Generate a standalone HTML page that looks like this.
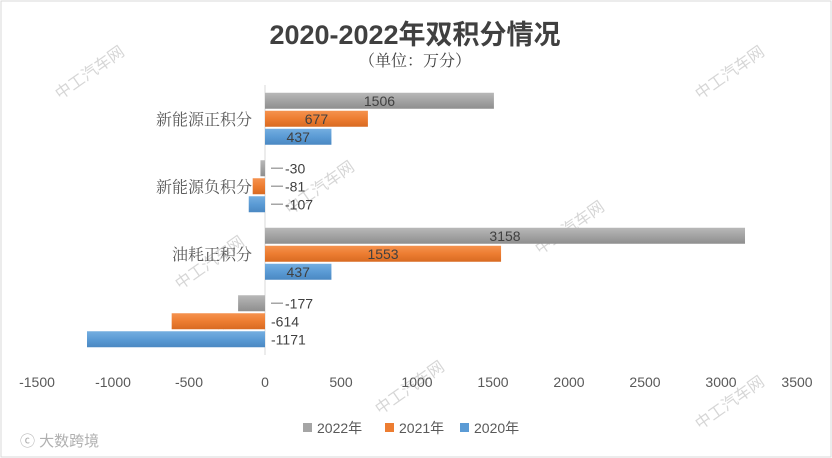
<!DOCTYPE html>
<html><head><meta charset="utf-8">
<style>
body{margin:0;background:#fff;}
svg{display:block;font-family:"Liberation Sans","Noto Sans CJK SC",sans-serif;}
</style></head>
<body>
<svg id="chart" width="832" height="458" viewBox="0 0 832 458">
<defs>
<linearGradient id="gGray" x1="0" y1="0" x2="0" y2="1"><stop offset="0" stop-color="#b8b8b8"/><stop offset="0.5" stop-color="#a3a3a3"/><stop offset="1" stop-color="#8e8e8e"/></linearGradient>
<linearGradient id="gOrange" x1="0" y1="0" x2="0" y2="1"><stop offset="0" stop-color="#f5924f"/><stop offset="0.5" stop-color="#ed7d31"/><stop offset="1" stop-color="#d86a22"/></linearGradient>
<linearGradient id="gBlue" x1="0" y1="0" x2="0" y2="1"><stop offset="0" stop-color="#74aee0"/><stop offset="0.5" stop-color="#5b9bd5"/><stop offset="1" stop-color="#4a88c2"/></linearGradient>
</defs>
<rect x="1" y="1" width="830" height="456" fill="#fff" stroke="#d9d9d9"/>
<text x="415" y="44" text-anchor="middle" font-size="27" font-weight="bold" fill="#404040">2020-2022年双积分情况</text>
<text x="415" y="66" text-anchor="middle" font-size="16" fill="#404040" font-family="Noto Serif CJK SC, serif">（单位：万分）</text>
<g id="wm" fill="#d6d6d6" font-size="16" font-family="Noto Sans CJK SC, sans-serif">
<text transform="translate(60,100) rotate(-35)">中工汽车网</text>
<text transform="translate(700,100) rotate(-35)">中工汽车网</text>
<text transform="translate(540,255) rotate(-35)">中工汽车网</text>
<text transform="translate(180,290) rotate(-35)">中工汽车网</text>
<text transform="translate(380,415) rotate(-35)">中工汽车网</text>
<text transform="translate(700,430) rotate(-35)">中工汽车网</text>
<text transform="translate(290,215) rotate(-35)">中工汽车网</text>
</g>
<g id="plot"></g>
<text x="20" y="446" font-size="15" fill="#b0b0b0">ⓒ 大数跨境</text>
</svg>
<script>
const categories=["新能源正积分","新能源负积分","油耗正积分","油耗负积分"];
const series2022=[1506,-30,3158,-177];
const series2021=[677,-81,1553,-614];
const series2020=[437,-107,437,-1171];
const seriesNames=["2022年","2021年","2020年"];
const xTicks=[-1500,-1000,-500,0,500,1000,1500,2000,2500,3000,3500];

const NS="http://www.w3.org/2000/svg";
const plot=document.getElementById("plot");
const xMin=-1500,xMax=3500,px0=37,px1=797;
function X(v){return px0+(v-xMin)/(xMax-xMin)*(px1-px0);}
const groupTop=85,groupH=67.5;
function Yc(i){return groupTop+groupH*(i+0.5);}
function mk(tag,attrs){const e=document.createElementNS(NS,tag);for(const k in attrs)e.setAttribute(k,attrs[k]);plot.appendChild(e);return e;}

let ax=mk("line",{x1:X(0),x2:X(0),y1:groupTop,y2:groupTop+groupH*4,stroke:"#d9d9d9","stroke-width":1});



xTicks.forEach(t=>{
  const e=mk("text",{x:X(t),y:387,"text-anchor":"middle","font-size":14,fill:"#595959"});
  e.textContent=t;
  
  
});

categories.forEach((c,i)=>{
  const e=mk("text",{x:252,y:Yc(i)+6,"text-anchor":"end","font-size":16,fill:"#595959","font-family":"Noto Serif CJK SC, serif"});
  e.textContent=c;
  
  
});

const all=[series2022,series2021,series2020];
const fills=["url(#gGray)","url(#gOrange)","url(#gBlue)"];
const barH=16,gap=2;
all.forEach((s,si)=>{
  s.forEach((v,i)=>{
    const y=Yc(i)-(barH*3+gap*2)/2+si*(barH+gap);
    const xa=Math.min(X(0),X(v)),w=Math.abs(X(v)-X(0));
    const r=mk("rect",{x:xa,y:y,width:w,height:barH,fill:fills[si]});
    
    
    let lx,anchor="middle";
    if(v>=0){lx=(X(0)+X(v))/2;}
    else{
      lx=X(0)+20;anchor="start";
      if(v>-500){
        const l=mk("line",{x1:X(0)+6,x2:X(0)+18,y1:y+barH/2,y2:y+barH/2,stroke:"#a6a6a6","stroke-width":1.5});
        
        
      } else { lx=X(0)+6; }
    }
    const t=mk("text",{x:lx,y:y+barH/2+5,"text-anchor":anchor,"font-size":14,fill:"#404040"});
    t.textContent=v;
    
    
  });
});

const lcols=["#a5a5a5","#ed7d31","#5b9bd5"];
const lx0=[303,385,460];
seriesNames.forEach((n,i)=>{
  const r=mk("rect",{x:lx0[i],y:423,width:9,height:9,fill:lcols[i]});
  
  
  const t=mk("text",{x:lx0[i]+14,y:433,"font-size":14,fill:"#595959"});
  t.textContent=n;
  
  
});
</script>
</body></html>
